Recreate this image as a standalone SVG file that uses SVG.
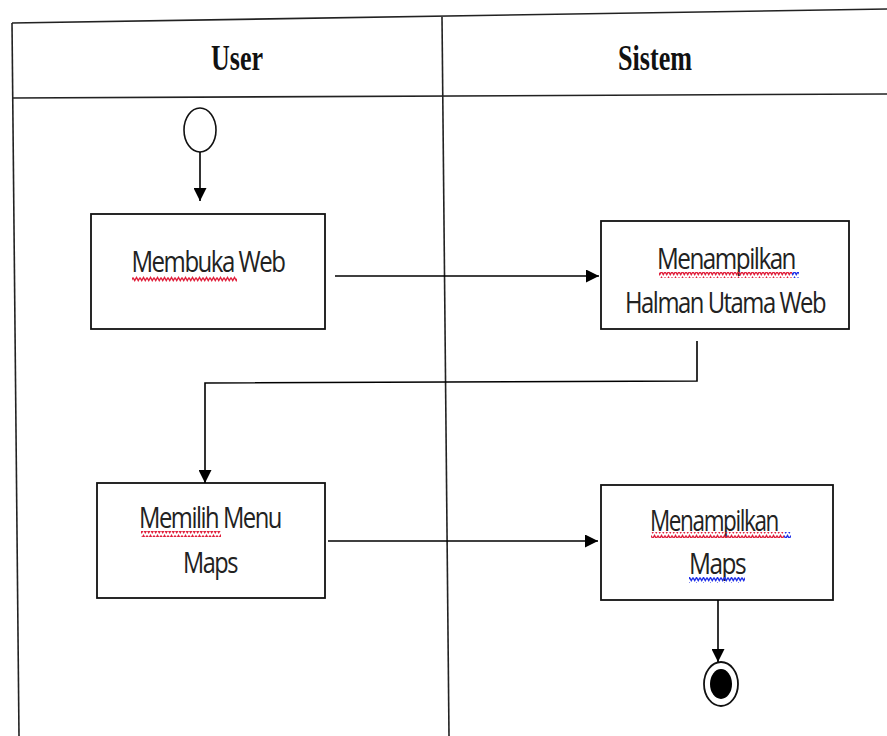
<svg xmlns="http://www.w3.org/2000/svg" width="887" height="736" viewBox="0 0 887 736">
  <defs>
    <marker id="arrow" viewBox="0 0 10 10" refX="10" refY="5" markerWidth="13" markerHeight="13" markerUnits="userSpaceOnUse" orient="auto">
      <path d="M0,0 L10,5 L0,10 Z" fill="#000"/>
    </marker>
    <pattern id="waveRed" width="7" height="6" patternUnits="userSpaceOnUse">
      <path d="M0,1.5 L1.75,4.5 L3.5,1.5 L5.25,4.5 L7,1.5" fill="none" stroke="#e0203c" stroke-width="1.4"/>
    </pattern>
    <pattern id="waveBlue" width="7" height="6" patternUnits="userSpaceOnUse">
      <path d="M0,1.5 L1.75,4.5 L3.5,1.5 L5.25,4.5 L7,1.5" fill="none" stroke="#2030e8" stroke-width="1.4"/>
    </pattern>
  </defs>
  <style>
    .lane { stroke: #222; stroke-width: 1.6; fill: none; }
    .box { fill: #fff; stroke: #111; stroke-width: 1.8; }
    .lbl { font-family: "Open Sans", "Liberation Sans", sans-serif; font-size: 29px; fill: #222; letter-spacing: -1.8px; }
    .head { font-family: "Liberation Serif", serif; font-weight: bold; font-size: 36px; fill: #111; }
    .edge { stroke: #000; stroke-width: 1.6; fill: none; }
  </style>
  <rect width="887" height="736" fill="#fff"/>

  <!-- swimlane frame -->
  <g id="lanes">
    <line class="lane" x1="12" y1="23" x2="887" y2="9"/>
    <line class="lane" x1="12" y1="98" x2="887" y2="94"/>
    <line class="lane" x1="12" y1="23" x2="19" y2="736"/>
    <line class="lane" x1="442" y1="17" x2="449" y2="736"/>
    <text class="head" x="237" y="70" text-anchor="middle" textLength="52" lengthAdjust="spacingAndGlyphs">User</text>
    <text class="head" x="655" y="70" text-anchor="middle" textLength="74" lengthAdjust="spacingAndGlyphs">Sistem</text>
  </g>

  <g id="start">
    <ellipse cx="200" cy="130" rx="16" ry="22" fill="#fff" stroke="#111" stroke-width="1.6"/>
  </g>

  <g id="membuka-web">
    <rect class="box" x="91" y="214" width="234" height="115"/>
    <text class="lbl" x="208" y="272" text-anchor="middle" textLength="153" lengthAdjust="spacingAndGlyphs">Membuka Web</text>
    <rect x="132" y="276" width="105" height="6" fill="url(#waveRed)"/>
  </g>

  <g id="halaman-utama">
    <rect class="box" x="601" y="221" width="248" height="108"/>
    <text class="lbl" x="726" y="269" text-anchor="middle" textLength="138" lengthAdjust="spacingAndGlyphs">Menampilkan</text>
    <rect x="659" y="272" width="133" height="6" fill="url(#waveRed)"/>
    <rect x="792" y="272" width="7" height="6" fill="url(#waveBlue)"/>
    <text class="lbl" x="725" y="313" text-anchor="middle" textLength="200" lengthAdjust="spacingAndGlyphs">Halman  Utama Web</text>
  </g>

  <g id="memilih-menu">
    <rect class="box" x="97" y="483" width="228" height="115"/>
    <text class="lbl" x="210" y="528" text-anchor="middle" textLength="142" lengthAdjust="spacingAndGlyphs">Memilih Menu</text>
    <rect x="141" y="531" width="80" height="6" fill="url(#waveRed)"/>
    <text class="lbl" x="210" y="573" text-anchor="middle" textLength="54" lengthAdjust="spacingAndGlyphs">Maps</text>
  </g>

  <g id="menampilkan-maps">
    <rect class="box" x="601" y="485" width="232" height="115"/>
    <text class="lbl" x="714" y="531" text-anchor="middle" textLength="128" lengthAdjust="spacingAndGlyphs">Menampilkan</text>
    <rect x="651" y="532" width="133" height="6" fill="url(#waveRed)"/>
    <rect x="784" y="532" width="7" height="6" fill="url(#waveBlue)"/>
    <text class="lbl" x="717" y="574" text-anchor="middle" textLength="56" lengthAdjust="spacingAndGlyphs">Maps</text>
    <rect x="689" y="577" width="56" height="6" fill="url(#waveBlue)"/>
  </g>

  <g id="end">
    <ellipse cx="721" cy="684" rx="17" ry="22" fill="#fff" stroke="#111" stroke-width="1.8"/>
    <ellipse cx="721" cy="684" rx="11" ry="15" fill="#000"/>
  </g>

  <g id="connectors">
    <line class="edge" x1="200" y1="152" x2="200" y2="201" marker-end="url(#arrow)"/>
    <line class="edge" x1="335" y1="276" x2="599" y2="276" marker-end="url(#arrow)"/>
    <polyline class="edge" points="697,341 697,381 205,383 205,483" marker-end="url(#arrow)"/>
    <line class="edge" x1="328" y1="541" x2="598" y2="541" marker-end="url(#arrow)"/>
    <line class="edge" x1="718" y1="600" x2="718" y2="662" marker-end="url(#arrow)"/>
  </g>
</svg>
